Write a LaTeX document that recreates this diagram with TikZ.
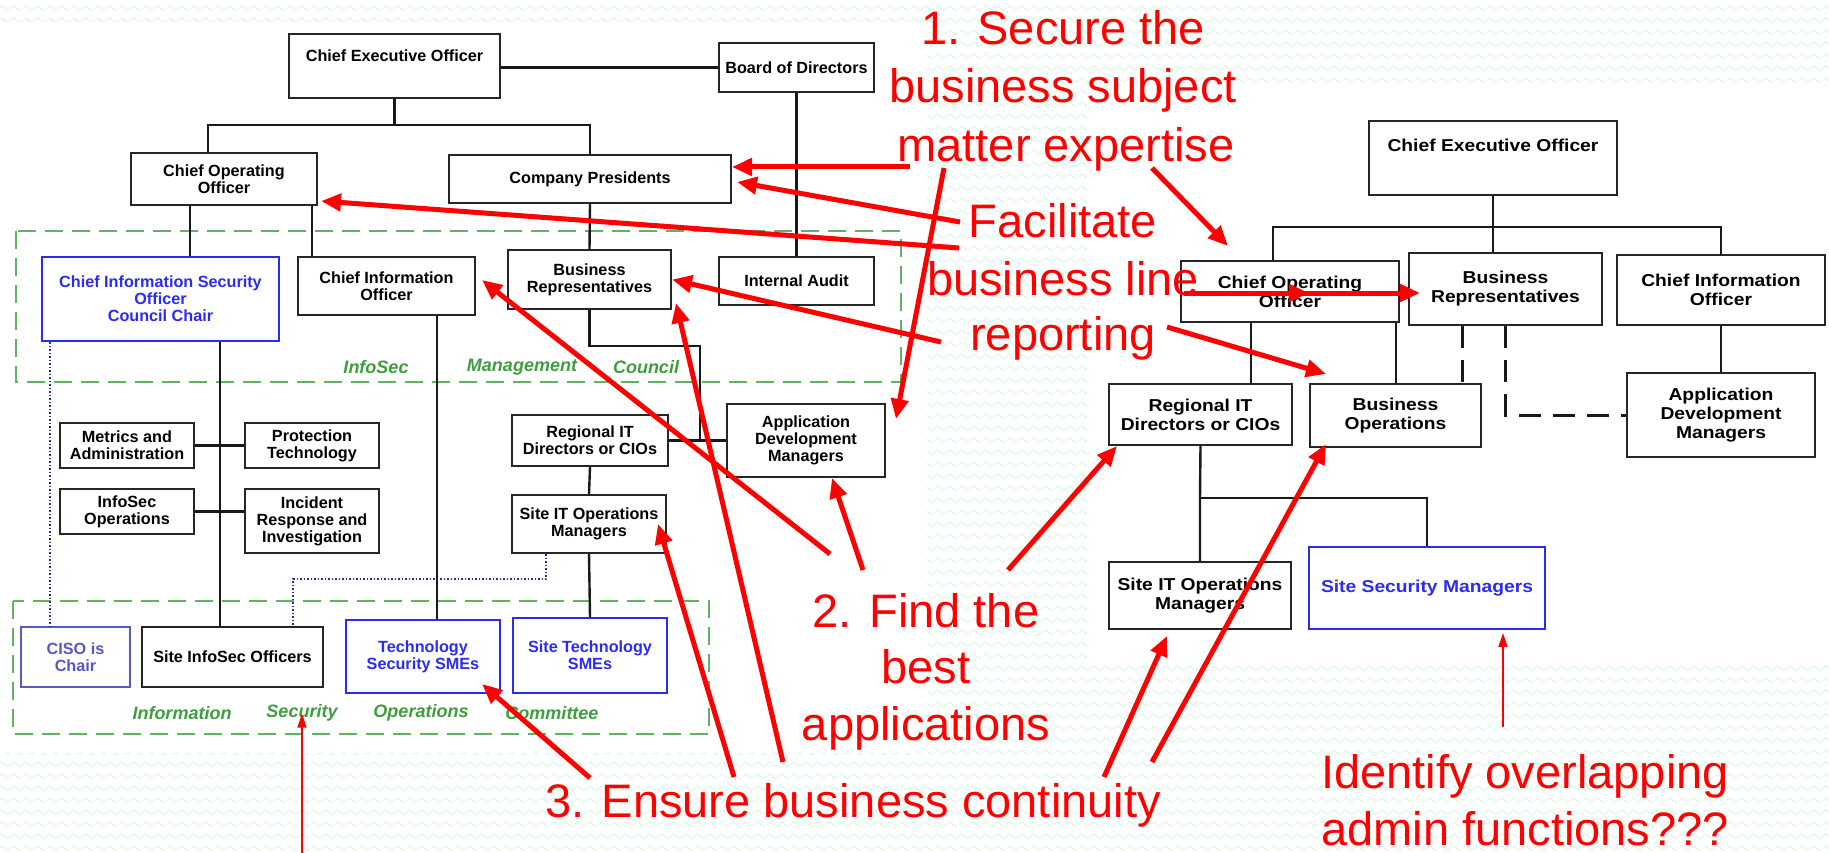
\documentclass[tikz,border=0pt]{standalone}
\usepackage{fontspec}
\setmainfont{Liberation Sans}
\newfontfamily\widesans[FakeStretch=1.12]{Liberation Sans}
\usetikzlibrary{arrows.meta}
\usetikzlibrary{patterns}
\usetikzlibrary{positioning}
\definecolor{wavegreen}{HTML}{D6F6E0}
\definecolor{councilgreen}{HTML}{3C9F3C}
\definecolor{chartblue}{HTML}{2B2BF2}
\definecolor{chairblue}{HTML}{5858C2}
\definecolor{dotblue}{HTML}{24338A}
\definecolor{notered}{HTML}{FF0000}
\pgfdeclarepatternformonly{wavelines}{\pgfpointorigin}{\pgfpoint{12pt}{11.5pt}}{\pgfpoint{12pt}{11.5pt}}{
  \pgfsetlinewidth{1pt}
  \pgfpathmoveto{\pgfpoint{0pt}{5pt}}
  \pgfpathcurveto{\pgfpoint{3pt}{8pt}}{\pgfpoint{3pt}{8pt}}{\pgfpoint{6pt}{5pt}}
  \pgfpathcurveto{\pgfpoint{9pt}{2pt}}{\pgfpoint{9pt}{2pt}}{\pgfpoint{12pt}{5pt}}
  \pgfusepath{stroke}
}

\begin{document}
\begin{tikzpicture}[x=1pt,y=-1pt,
    box/.style={draw=black!85,line width=2pt,fill=white,align=center,inner sep=2pt,
      font=\bfseries\fontsize{16.2}{17}\selectfont},
    rbox/.style={box,font=\widesans\bfseries\fontsize{17.2}{19}\selectfont},
    bluebox/.style={draw=chartblue,text=chartblue},
    link/.style={line width=2.4pt,black!90},
    dashlink/.style={line width=3pt,black!90,dash pattern=on 22pt off 12pt},
    dotlink/.style={line width=1.5pt,dotblue,dotted},
    groupframe/.style={draw=councilgreen!80,line width=2.5pt,dash pattern=on 18pt off 9pt},
    grouplabel/.style={text=councilgreen,font=\bfseries\itshape\fontsize{18}{20}\selectfont},
    notetext/.style={text=notered,anchor=base,inner sep=0pt,font=\fontsize{47}{57}\selectfont},
    note/.style={draw=notered,line width=5pt,-{Triangle[length=20pt,width=17pt]}},
    thinnote/.style={draw=notered,line width=1.6pt,-{Triangle[length=14pt,width=9pt]}}]
  \useasboundingbox (0,0) rectangle (1829,853);
  %wavy background
  \fill[pattern=wavelines,pattern color=wavegreen] (0,0) rectangle (1829,853);
  \fill[white] (0,22) rectangle (927,753);
  \fill[white] (1087,87) rectangle (1829,663);

  %green committee frames
  \draw[groupframe] (16,231) rectangle (901,382);
  \draw[groupframe] (13,601) rectangle (709,734);
  \node[grouplabel] (lblInfoSec) at (376,367) {InfoSec};
  \node[grouplabel] (lblManagement) at (522,367) {Management};
  \node[grouplabel] (lblCouncil) at (646,367) {Council};
  \node[grouplabel] (lblInformation) at (182,713) {Information};
  \node[grouplabel] (lblSecurity) at (302,713) {Security};
  \node[grouplabel] (lblOperations) at (421,713) {Operations};
  \node[grouplabel] (lblCommittee) at (552,713) {Committee};

  %left chart
  \node[box,minimum width=211pt,minimum height=64pt,text height=12pt,text depth=20pt,inner ysep=16pt] (ceoL) at (394.5,66) {Chief Executive Officer};
  \node[box,minimum width=155pt,minimum height=49pt] (board) at (796.5,67.5) {Board of Directors};
  \node[box,minimum width=186pt,minimum height=52pt] (cooL) at (224,179) {Chief Operating\\Officer};
  \node[box,minimum width=282pt,minimum height=48pt] (pres) at (590,179) {Company Presidents};
  \node[box,bluebox,minimum width=237pt,minimum height=84pt] (ciso) at (160.5,299) {Chief Information Security\\Officer\\Council Chair};
  \node[box,minimum width=177pt,minimum height=58pt] (cioL) at (386.5,286) {Chief Information\\Officer};
  \node[box,minimum width=163pt,minimum height=59pt] (brL) at (589.5,279.5) {Business\\Representatives};
  \node[box,minimum width=155pt,minimum height=48pt] (audit) at (796.5,281) {Internal Audit};
  \node[box,minimum width=134pt,minimum height=45pt] (metrics) at (127,445.5) {Metrics and\\Administration};
  \node[box,minimum width=134pt,minimum height=45pt] (protect) at (312,445.5) {Protection\\Technology};
  \node[box,minimum width=134pt,minimum height=45pt] (infosecops) at (127,511.5) {InfoSec\\Operations};
  \node[box,minimum width=134pt,minimum height=64pt] (incident) at (312,521) {Incident\\Response and\\Investigation};
  \node[box,minimum width=156pt,minimum height=51pt] (regitL) at (590,440.5) {Regional IT\\Directors or CIOs};
  \node[box,minimum width=158pt,minimum height=73pt] (admL) at (806,440.5) {Application\\Development\\Managers};
  \node[box,minimum width=154pt,minimum height=58pt] (siteitL) at (589,524) {Site IT Operations\\Managers};
  \node[box,draw=chairblue,text=chairblue,minimum width=109pt,minimum height=60pt] (chair) at (75.5,657) {CISO is\\Chair};
  \node[box,minimum width=181pt,minimum height=60pt] (siteinfosec) at (232.5,657) {Site InfoSec Officers};
  \node[box,bluebox,minimum width=154pt,minimum height=73pt] (techsec) at (423,656.5) {Technology\\Security SMEs};
  \node[box,bluebox,minimum width=154pt,minimum height=75pt] (sitetech) at (590,655.5) {Site Technology\\SMEs};

  \coordinate (busL) at (394.5,125);
  \coordinate (jbr) at (700,440.5);
  \draw[link] (ceoL.east |- board.west) -- (board.west);
  \draw[link] (board.south) -- (audit.north);
  \draw[link] (ceoL.south) -- (busL);
  \draw[link] ([xshift=-16pt]cooL.north) |- (busL) -| (pres.north);
  \draw[link] ([xshift=-34pt]cooL.south) -- ([xshift=29.5pt]ciso.north);
  \draw[link] ([xshift=88pt]cooL.south) -- ([xshift=-74.5pt]cioL.north);
  \draw[link] (pres.south) -- (brL.north);
  \draw[link] ([xshift=59.5pt]ciso.south) -- ([xshift=-12.5pt]siteinfosec.north);
  \draw[link] (metrics.east) -- (protect.west);
  \draw[link] (infosecops.east) -- (infosecops.east -| incident.west);
  \draw[link] ([xshift=50.5pt]cioL.south) -- ([xshift=14pt]techsec.north);
  \draw[link] (brL.south) -- ++(0,36) -| (jbr);
  \draw[link] (regitL.east) -- (admL.west);
  \draw[link] (regitL.south) -- (siteitL.north);
  \draw[link] (siteitL.south) -- (sitetech.north);
  \draw[dotlink] ([xshift=-43pt]siteitL.south) -- ++(0,25) -| ([xshift=60.5pt]siteinfosec.north);
  \draw[dotlink] ([xshift=-110.5pt]ciso.south) -- ([xshift=-25.5pt]chair.north);

  %right chart
  \node[rbox,minimum width=248pt,minimum height=74pt,text height=13pt,text depth=25pt,inner ysep=18pt] (ceoR) at (1493,158) {Chief Executive Officer};
  \node[rbox,minimum width=218pt,minimum height=61pt] (cooR) at (1290,291.5) {Chief Operating\\Officer};
  \node[rbox,minimum width=193pt,minimum height=72pt] (brR) at (1505.5,289) {Business\\Representatives};
  \node[rbox,minimum width=208pt,minimum height=70pt] (cioR) at (1721,290) {Chief Information\\Officer};
  \node[rbox,minimum width=183pt,minimum height=61pt] (regitR) at (1200.5,414.5) {Regional IT\\Directors or CIOs};
  \node[rbox,minimum width=171pt,minimum height=63pt] (busopsR) at (1395.5,415.5) {Business\\Operations};
  \node[rbox,minimum width=188pt,minimum height=84pt] (admR) at (1721,415) {Application\\Development\\Managers};
  \node[rbox,minimum width=182pt,minimum height=67pt] (siteitR) at (1200,595.5) {Site IT Operations\\Managers};
  \node[rbox,bluebox,minimum width=236pt,minimum height=82pt] (ssmR) at (1427,588) {Site Security Managers};

  \coordinate (busR) at (1493,227);
  \coordinate (busR2) at (1200,498);
  \draw[link] (ceoR.south) -- (busR);
  \draw[link] ([xshift=-17pt]cooR.north) |- (busR) -| (cioR.north);
  \draw[link] (busR) -- ([xshift=-12.5pt]brR.north);
  \draw[link] ([xshift=-39pt]cooR.south) -- ([xshift=50.5pt]regitR.north);
  \draw[link] ([xshift=106pt]cooR.south) -- ([xshift=0.5pt]busopsR.north);
  \draw[dashlink] ([xshift=-43.5pt]brR.south) -- ([xshift=66.5pt]busopsR.north);
  \draw[dashlink] (brR.south) |- (admR.west);
  \draw[link] (cioR.south) -- (admR.north);
  \draw[link] (regitR.south) -- (busR2) -- (siteitR.north);
  \draw[link] (busR2) -| (ssmR.north);

  %red notes
  \node[notetext] (secure1) at (1063,45) {1. Secure the};
  \node[notetext] (secure2) at (1063,103) {business subject};
  \node[notetext] (secure3) at (1066,162) {matter expertise};
  \node[notetext] (facil1) at (1063,238) {Facilitate};
  \node[notetext] (facil2) at (1063,295) {business line};
  \node[notetext] (facil3) at (1063,350) {reporting};
  \node[notetext] (find1) at (926,627) {2. Find the};
  \node[notetext] (find2) at (926,683) {best};
  \node[notetext] (find3) at (926,740) {applications};
  \node[notetext] (ensure) at (853,817) {3. Ensure business continuity};
  \node[notetext] (overlap1) at (1525,788) {Identify overlapping};
  \node[notetext] (overlap2) at (1525,845) {admin functions???};

  %secure arrows
  \coordinate (s1) at (910,167);
  \coordinate (s2) at (944,168);
  \coordinate (s3) at (1152,168);
  \draw[note] (s1) -- ([yshift=12pt]pres.east);
  \draw[note] (s2) -- ([xshift=10pt,yshift=-16pt]admL.north east);
  \draw[note] (s3) -- ([xshift=48pt,yshift=14pt]cooR.north west);
  %facilitate arrows
  \coordinate (f1) at (960,222);
  \coordinate (f2) at (959,248);
  \coordinate (f3) at (941,342);
  \coordinate (f4) at (1184,293);
  \coordinate (f5) at (1167,327);
  \draw[note] (f1) -- ([xshift=5pt,yshift=-3pt]pres.east);
  \draw[note] (f2) -- ([xshift=3pt,yshift=5pt]cooL.south east);
  \draw[note] (f3) -- (brL.east);
  \draw[note] (f4) -- ([xshift=12pt,yshift=-4pt]brR.west);
  \draw[note] (f4) -- ([xshift=19pt,yshift=-1.5pt]cooR.center);
  \draw[note] (f5) -- ([xshift=17pt,yshift=9pt]busopsR.north west);
  %find arrows
  \coordinate (b1) at (830,554);
  \coordinate (b2) at (863,570);
  \coordinate (b3) at (1008,570);
  \draw[note] (b1) -- ([xshift=6pt,yshift=6pt]cioL.east);
  \draw[note] (b2) -- ([xshift=26pt]admL.south);
  \draw[note] (b3) -- ([xshift=9pt]regitR.south west);
  %ensure arrows
  \coordinate (e1) at (590,778);
  \coordinate (e2) at (734,777);
  \coordinate (e3) at (783,762);
  \coordinate (e4) at (1104,777);
  \coordinate (e5) at (1152,762);
  \draw[note] (e1) -- ([xshift=-19pt,yshift=10pt]techsec.south east);
  \draw[note] (e2) -- ([xshift=-9pt]siteitL.east);
  \draw[note] (e3) -- ([xshift=4pt,yshift=7pt]brL.south east);
  \draw[note] (e4) -- ([xshift=-33pt,yshift=-6pt]siteitR.south);
  \draw[note] (e5) -- ([xshift=17pt,yshift=4pt]busopsR.south west);
  %thin arrows
  \coordinate (o1) at (1503,727);
  \coordinate (q1) at (302,853);
  \draw[thinnote] (o1) -- ([xshift=76pt,yshift=-3pt]ssmR.south);
  \draw[thinnote] (q1) -- ([yshift=4pt]lblSecurity.base);
\end{tikzpicture}
\end{document}
